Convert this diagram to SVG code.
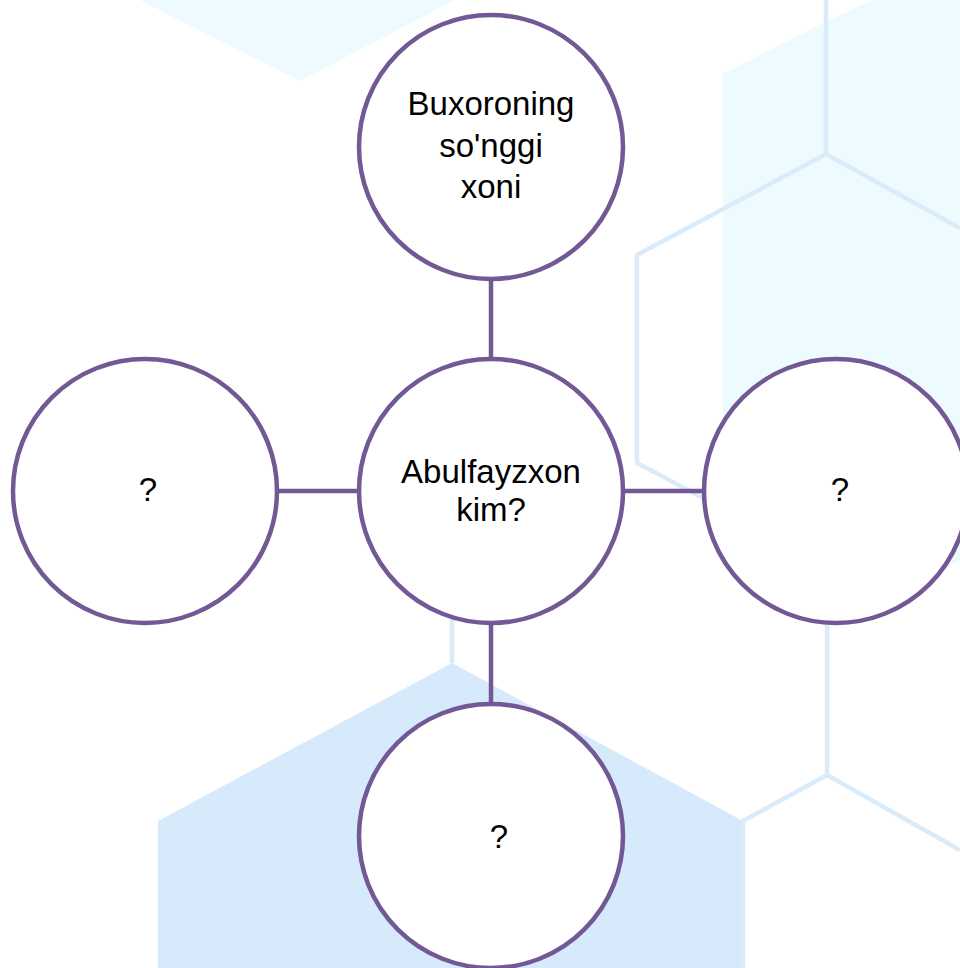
<svg xmlns="http://www.w3.org/2000/svg" width="960" height="968" viewBox="0 0 960 968">
<style>
.node{fill:#ffffff;stroke:#725996;stroke-width:4.5}
.conn{stroke:#725996;stroke-width:4.5;fill:none}
.hex{stroke:#DAEBFA;stroke-width:4.5;fill:none;stroke-linejoin:round}
.lbl{font-family:"Liberation Sans",Arial,sans-serif;font-size:33px;fill:#000000;text-anchor:middle}
</style>
<g id="background">
<rect x="0" y="0" width="960" height="968" fill="#ffffff"/>
<polygon points="140,0 455,0 300,81" fill="#EDFBFE"/>
<polygon points="723,74 825,22 960,-40 960,560 850,620 723,560" fill="#EEFBFE"/>
<polygon points="452,663 743,821 743,968 158,968 158,821" fill="#D6EAFB"/>
<path class="hex" d="M826,0 V154 L637,255 V463 L705,499"/>
<path class="hex" d="M826,154 L960,228"/>
<path class="hex" d="M827,560 V775 L743,821 V968"/>
<path class="hex" d="M827,775 L960,850"/>
<path class="hex" d="M452,600 V663"/>
</g>
<g id="connectors">
<line class="conn" x1="491" y1="280" x2="491" y2="359"/>
<line class="conn" x1="279" y1="491" x2="359" y2="491"/>
<line class="conn" x1="623" y1="491" x2="703" y2="491"/>
<line class="conn" x1="491" y1="623" x2="491" y2="704"/>
</g>
<g id="node-top">
<circle class="node" cx="491" cy="147" r="132"/>
<text class="lbl" x="491" y="115">Buxoroning</text>
<text class="lbl" x="491" y="157">so'nggi</text>
<text class="lbl" x="491" y="198">xoni</text>
</g>
<g id="node-center">
<circle class="node" cx="491" cy="491" r="132"/>
<text class="lbl" x="491" y="483">Abulfayzxon</text>
<text class="lbl" x="491" y="521">kim?</text>
</g>
<g id="node-left">
<circle class="node" cx="145" cy="491" r="132"/>
<text class="lbl" x="148" y="501">?</text>
</g>
<g id="node-right">
<circle class="node" cx="836" cy="491" r="132"/>
<text class="lbl" x="840" y="501">?</text>
</g>
<g id="node-bottom">
<circle class="node" cx="491" cy="836" r="132"/>
<text class="lbl" x="499" y="848">?</text>
</g>
</svg>
